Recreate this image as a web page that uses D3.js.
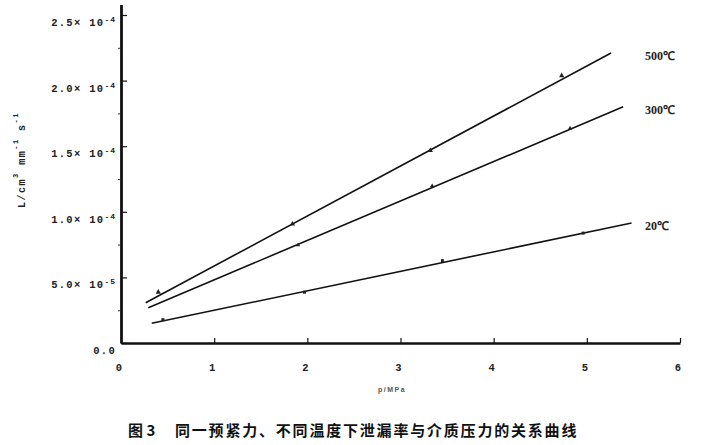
<!DOCTYPE html>
<html>
<head>
<meta charset="utf-8">
<script src="https://cdn.jsdelivr.net/npm/d3@7"></script>
<style>
  body { margin: 0; background: #fff; }
  svg { display: block; }
  .tick-label { font-family: "Liberation Mono", monospace; font-weight: bold; fill: #222; }
</style>
</head>
<body>
<svg></svg>
<script>
// leak rate vs medium pressure, three temperatures
const seriesNames = ['500℃', '300℃', '20℃'];

// measured points (pressure MPa, leak rate)
const pressure500 = [0.40, 1.84, 3.32, 4.73];
const rate500 = [3.8e-5, 9.0e-5, 1.46e-4, 2.03e-4];
const pressure300 = [1.90, 3.34, 4.82];
const rate300 = [7.4e-5, 1.19e-4, 1.63e-4];
const pressure20 = [0.45, 1.97, 3.45, 4.96];
const rate20 = [1.7e-5, 3.8e-5, 6.2e-5, 8.3e-5];

// fitted straight lines, start and end
const fitPressure500 = [0.265, 5.26];
const fitRate500 = [3.07e-5, 2.21e-4];
const fitPressure300 = [0.293, 5.39];
const fitRate300 = [2.69e-5, 1.80e-4];
const fitPressure20 = [0.330, 5.48];
const fitRate20 = [1.50e-5, 9.14e-5];

// axis ticks
const xTicks = [0, 1, 2, 3, 4, 5, 6];
const yTicks = [0, 5e-5, 1e-4, 1.5e-4, 2e-4, 2.5e-4];
const yTickMantissa = ['0.0', '5.0', '1.0', '1.5', '2.0', '2.5'];
const yTickExp = ['', '-5', '-4', '-4', '-4', '-4'];
const yMinorTicks = [2.5e-5, 7.5e-5, 1.25e-4, 1.75e-4, 2.25e-4];

const caption = '图 3';
const captionText = '同一预紧力、不同温度下泄漏率与介质压力的关系曲线';
const xLabel = 'p/MPa';

let width = 703;
let height = 445;
let xLeft = 121;
let xRight = 680;
let yBottom = 343;
let yTop = 4.5;

const svg = d3.select('svg')
              .attr('width', width)
              .attr('height', height);

let xScale = d3.scaleLinear()
               .domain([0, 6])
               .range([xLeft, xRight]);

let yScale = d3.scaleLinear()
               .domain([0, 2.58e-4])
               .range([yBottom, yTop]);

let drawAxes = () => {
    // y axis: major ticks point inward, minor outward
    let yAxis = d3.axisLeft(yScale)
                  .tickValues(yTicks)
                  .tickSize(-6)
                  .tickSizeOuter(0)
                  .tickFormat('');
    let yg = svg.append('g')
                .attr('transform', 'translate(' + xLeft + ', 0)')
                .call(yAxis);
    yg.select('.domain').attr('stroke', '#111').attr('stroke-width', 2.8);
    yg.selectAll('.tick line').attr('stroke', '#111').attr('stroke-width', 1.2);

    let yMinor = d3.axisLeft(yScale)
                   .tickValues(yMinorTicks)
                   .tickSize(3)
                   .tickFormat('');
    let ym = svg.append('g')
                .attr('transform', 'translate(' + xLeft + ', 0)')
                .call(yMinor);
    ym.select('.domain').remove();
    ym.selectAll('.tick line').attr('stroke', '#333').attr('stroke-width', 1);

    // y tick labels with superscript exponent
    yTicks.forEach((v, i) => {
        let t = svg.append('text')
                   .attr('class', 'tick-label')
                   .attr('x', xLeft - 5)
                   .attr('y', yScale(v) + 11)
                   .attr('text-anchor', 'end')
                   .style('font-size', '10.5px')
                   .style('letter-spacing', '1.3px');
        if (yTickExp[i] === '') {
            t.text(yTickMantissa[i]);
        } else {
            t.append('tspan').text(yTickMantissa[i] + '× 10');
            t.append('tspan')
             .attr('dy', -4)
             .style('font-size', '8px')
             .style('letter-spacing', '1px')
             .text(yTickExp[i]);
        }
    });

    // x axis: ticks point up
    let xAxis = d3.axisBottom(xScale)
                  .tickValues(xTicks)
                  .tickSize(-5)
                  .tickSizeOuter(0)
                  .tickPadding(21)
                  .tickFormat(d3.format('d'));
    let xg = svg.append('g')
                .attr('transform', 'translate(0, ' + yBottom + ')')
                .call(xAxis);
    xg.select('.domain').attr('stroke', '#111').attr('stroke-width', 2.4);
    xg.selectAll('.tick line').attr('stroke', '#111').attr('stroke-width', 1.2);
    xg.selectAll('.tick text')
      .attr('class', 'tick-label')
      .attr('x', -2.5)
      .style('font-size', '10.5px');
    xg.selectAll('.tick')
      .filter((d) => d === 0)
      .select('line').remove();

    svg.append('text')
       .attr('x', 392)
       .attr('y', 392)
       .attr('text-anchor', 'middle')
       .style('font-family', '"Liberation Sans", sans-serif')
       .style('font-weight', 'bold')
       .style('font-size', '7px')
       .style('letter-spacing', '1.5px')
       .style('fill', '#555')
       .text(xLabel);

    // y axis unit label, rotated
    let yl = svg.append('text')
                .attr('transform', 'translate(25, 160) rotate(-90)')
                .attr('text-anchor', 'middle')
                .style('font-family', '"Liberation Mono", monospace')
                .style('font-weight', 'bold')
                .style('font-size', '10px')
                .style('letter-spacing', '1.5px')
                .style('fill', '#222');
    yl.append('tspan').text('L/cm');
    yl.append('tspan').attr('dy', -7).style('font-size', '7px').text('3');
    yl.append('tspan').attr('dy', 7).text(' mm');
    yl.append('tspan').attr('dy', -7).style('font-size', '7px').text('-1');
    yl.append('tspan').attr('dy', 7).text(' s');
    yl.append('tspan').attr('dy', -7).style('font-size', '7px').text('-1');
}

let drawLines = () => {
    let fits = [
        [fitPressure500, fitRate500],
        [fitPressure300, fitRate300],
        [fitPressure20, fitRate20]
    ];
    let line = d3.line()
                 .x((d) => xScale(d[0]))
                 .y((d) => yScale(d[1]));

    fits.forEach((f, i) => {
        let pts = f[0].map((p, j) => [p, f[1][j]]);
        svg.append('path')
           .datum(pts)
           .attr('d', line)
           .attr('fill', 'none')
           .attr('stroke', '#111')
           .attr('stroke-width', 1.6);

        svg.append('text')
           .attr('x', xScale(6) - 35)
           .attr('y', yScale(f[1][1]) + 7)
           .style('font-family', '"Liberation Serif", serif')
           .style('font-weight', 'bold')
           .style('font-size', '12px')
           .style('fill', '#222')
           .text(seriesNames[i]);
    });

    // small markers on the measured points
    let sets = [
        [pressure500, rate500, d3.symbolTriangle, 12],
        [pressure300, rate300, d3.symbolTriangle, 8],
        [pressure20, rate20, d3.symbolSquare, 9]
    ];
    sets.forEach((s) => {
        let pts = s[0].map((p, j) => [p, s[1][j]]);
        svg.selectAll(null)
           .data(pts)
           .enter()
           .append('path')
           .attr('d', d3.symbol().type(s[2]).size(s[3]))
           .attr('transform', (d) => 'translate(' + xScale(d[0]) + ',' + (yScale(d[1]) - 1) + ')')
           .attr('fill', '#222');
    });
}

let drawCaption = () => {
    svg.append('text')
       .attr('x', 128)
       .attr('y', 436)
       .style('font-family', '"Noto Sans CJK SC", sans-serif')
       .style('font-weight', 'bold')
       .style('font-size', '15px')
       .style('fill', '#111')
       .text(caption);

    svg.append('text')
       .attr('x', 175)
       .attr('y', 436)
       .style('font-family', '"Noto Sans CJK SC", sans-serif')
       .style('font-weight', 'bold')
       .style('font-size', '15px')
       .style('letter-spacing', '1.8px')
       .style('fill', '#111')
       .text(captionText);
}

drawAxes();
drawLines();
drawCaption();
</script>
</body>
</html>
